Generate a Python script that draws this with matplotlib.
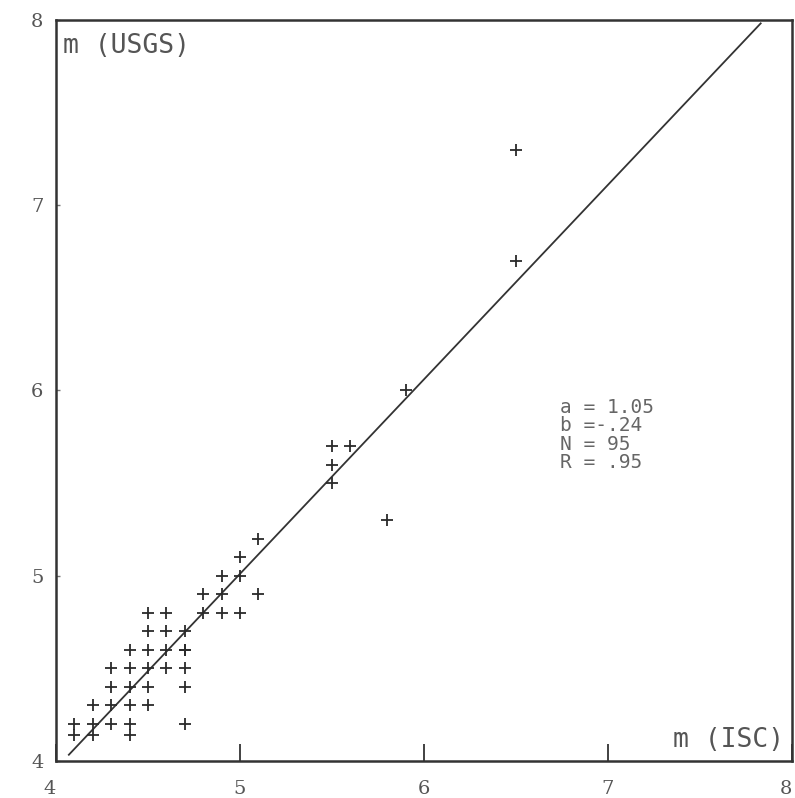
import matplotlib
matplotlib.use("Agg")
import matplotlib.pyplot as plt
import numpy as np

# Data
x_isc = [4.1, 4.1, 4.2, 4.2, 4.2, 4.3, 4.3, 4.3, 4.3, 4.4, 4.4, 4.4, 4.4, 4.4, 4.4,
         4.5, 4.5, 4.5, 4.5, 4.5, 4.5, 4.6, 4.6, 4.6, 4.6, 4.7, 4.7, 4.7, 4.7, 4.7, 4.7,
         4.8, 4.8, 4.9, 4.9, 4.9, 5.0, 5.0, 5.0, 5.1, 5.1,
         5.5, 5.5, 5.5, 5.6, 5.8, 5.9, 6.5, 6.5]
y_usgs = [4.2, 4.14, 4.3, 4.2, 4.14, 4.5, 4.4, 4.3, 4.2, 4.6, 4.5, 4.4, 4.3, 4.2, 4.14,
          4.8, 4.7, 4.6, 4.5, 4.4, 4.3, 4.8, 4.7, 4.6, 4.5, 4.7, 4.6, 4.5, 4.4, 4.2, 4.6,
          4.9, 4.8, 5.0, 4.9, 4.8, 5.1, 5.0, 4.8, 5.2, 4.9,
          5.7, 5.6, 5.5, 5.7, 5.3, 6.0, 7.3, 6.7]
fit_a = 1.05
fit_b = -0.24
fit_x_range = [4.07, 7.83]
stats_labels = ["a = 1.05", "b =-.24", "N = 95", "R = .95"]
ticks = [4, 5, 6, 7, 8]
tick_labels = ["4", "5", "6", "7", "8"]

fig = plt.figure(figsize=(7.95, 7.98), dpi=100)
ax = fig.add_axes([0.0704, 0.0464, 0.9258, 0.9286])
ax.set_xlim(4, 8)
ax.set_ylim(4, 8)

fx = np.array(fit_x_range)
ax.plot(fx, fit_a * fx + fit_b, color="#333333", lw=1.3)
ax.plot(x_isc, y_usgs, linestyle="none", marker="+", markersize=8,
        markeredgewidth=1.3, color="#2a2a2a")

for s in ax.spines.values():
    s.set_linewidth(1.8)
    s.set_color("#333333")

ax.set_xticks(ticks)
ax.set_xticklabels(tick_labels)
ax.set_yticks(ticks)
ax.set_yticklabels(tick_labels)
ax.tick_params(axis="x", direction="in", length=12, width=1.3, pad=14,
               colors="#333333", labelcolor="#555555", labelsize=14)
ax.tick_params(axis="y", direction="in", length=3, width=1, pad=9,
               colors="#777777", labelcolor="#555555", labelsize=14)
for lab in ax.get_xticklabels() + ax.get_yticklabels():
    lab.set_family("DejaVu Serif")
xl = ax.get_xticklabels()
xl[0].set_ha("right")
xl[-1].set_ha("right")

mono = "DejaVu Sans Mono"
ax.text(0.01, 0.982, "m (USGS)", transform=ax.transAxes, ha="left", va="top",
        family=mono, fontsize=19, color="#555555")
ax.text(0.99, 0.028, "m (ISC)", transform=ax.transAxes, ha="right", va="center",
        family=mono, fontsize=19, color="#555555")

stats_x = 6.74
stats_y0 = 5.91
for i, s in enumerate(stats_labels):
    ax.text(stats_x, stats_y0 - 0.1 * i, s, ha="left", va="center",
            family=mono, fontsize=14, color="#666666")

fig.savefig("out.png", dpi=100)
